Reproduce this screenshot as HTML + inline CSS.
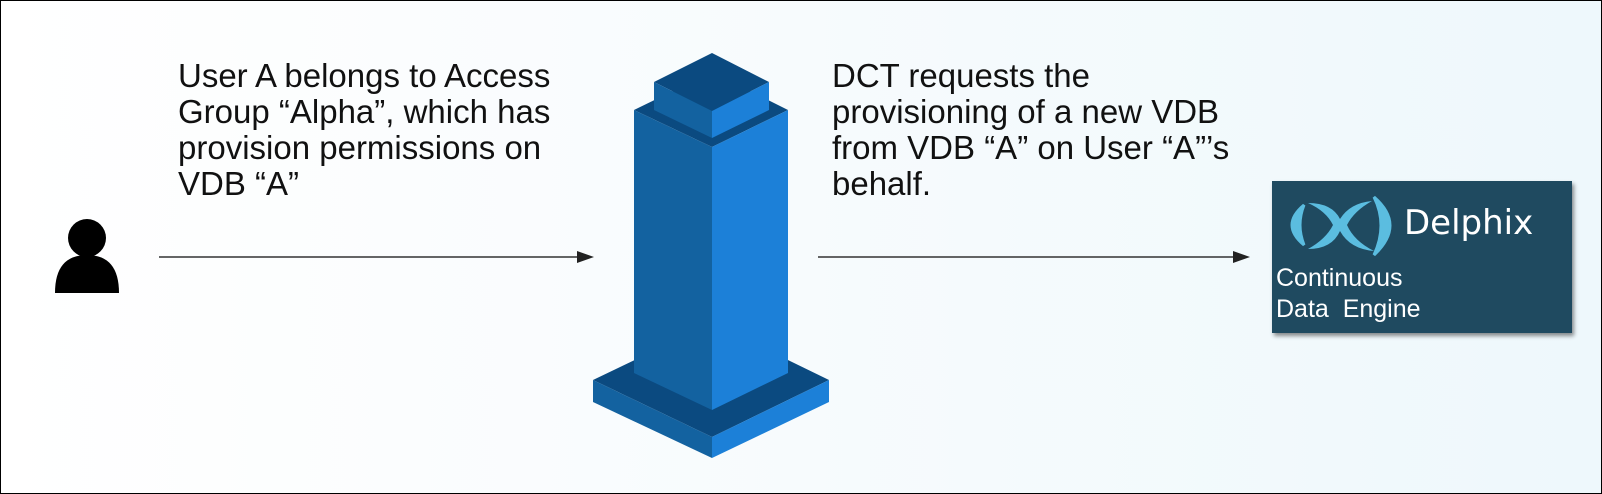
<!DOCTYPE html>
<html><head><style>
html,body{margin:0;padding:0}
body{width:1602px;height:494px;position:relative;overflow:hidden;background:#fff}
.frame{position:absolute;left:0;top:0;width:1600px;height:492px;border:1px solid #000;background:linear-gradient(90deg,#ffffff 0%,#f7fbfd 50%,#eef8fc 100%)}
.t{position:absolute;font-family:"Liberation Sans",Arial,sans-serif;font-size:33px;line-height:36px;color:#111;white-space:nowrap}
.box{position:absolute;left:1272px;top:181px;width:300px;height:152px;background:#1f4a60;box-shadow:2px 3px 4px rgba(0,0,0,.45)}
</style></head><body>
<div class="frame"></div>
<div class="t" style="left:178px;top:58px">User A belongs to Access<br>Group “Alpha”, which has<br>provision permissions on<br>VDB “A”</div>
<div class="t" style="left:832px;top:58px">DCT requests the<br>provisioning of a new VDB<br>from VDB “A” on User “A”’s<br>behalf.</div>
<svg width="1602" height="494" style="position:absolute;left:0;top:0">
 <circle cx="87" cy="238" r="19" fill="#000"/>
 <path d="M55 293 Q55 255 87 255 Q119 255 119 293 Z" fill="#000"/>
 <line x1="159" y1="257" x2="580" y2="257" stroke="#333" stroke-width="1.5"/>
 <polygon points="594,257 577,251 577,263" fill="#222"/>
 <line x1="818" y1="257" x2="1236" y2="257" stroke="#333" stroke-width="1.5"/>
 <polygon points="1250,257 1233,251 1233,263" fill="#222"/>
 <polygon points="593,380 712,323 829,380 712,437" fill="#0b4a80"/>
 <polygon points="593,380 712,437 712,458 593,402" fill="#1362a0"/>
 <polygon points="712,437 829,380 829,402 712,458" fill="#1c80d8"/>
 <polygon points="634,110 712,72 788,110 712,147" fill="#0b4a80"/>
 <polygon points="634,110 712,147 712,410 634,373" fill="#1362a0"/>
 <polygon points="712,147 788,110 788,373 712,410" fill="#1c80d8"/>
 <polygon points="654,82 712,53 769,82 712,111" fill="#0b4a80"/>
 <polygon points="654,82 712,111 712,138 654,110" fill="#1362a0"/>
 <polygon points="712,111 769,82 769,110 712,138" fill="#1c80d8"/>
</svg>
<div class="box">
 <svg width="130" height="70" style="position:absolute;left:8px;top:12px">
  <path d="M24 12 Q0 32 24 52 Q16 32 24 12Z" fill="#5bbde0" stroke="#5bbde0" stroke-width="3"/>
  <path d="M94 4 Q126 32 94 62 Q108 32 94 4Z" fill="#5bbde0" stroke="#5bbde0" stroke-width="3"/>
  <path d="M28 10 Q52 10 60 26 Q70 10 92 8 Q74 18 67 32 Q74 48 94 58 Q70 56 60 38 Q52 56 28 56 Q46 46 53 32 Q46 18 28 10Z" fill="#5bbde0"/>
 </svg>
 <div style="position:absolute;left:132px;top:22px;font-family:'DejaVu Sans','Liberation Sans',sans-serif;font-size:34px;color:#fff">Delphix</div>
 <div style="position:absolute;left:4px;top:82px;font-family:'Liberation Sans',sans-serif;font-size:25px;line-height:31px;color:#fff;white-space:pre">Continuous
Data  Engine</div>
</div>
</body></html>
